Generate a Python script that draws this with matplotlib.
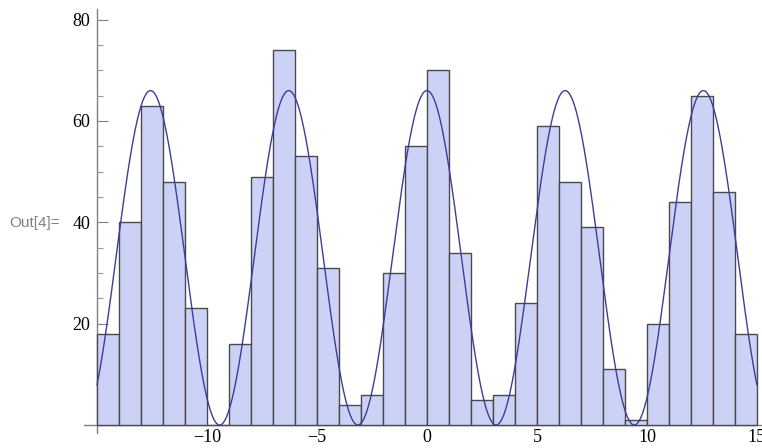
import matplotlib
matplotlib.use('Agg')

import matplotlib.pyplot as plt
import numpy as np
from matplotlib.ticker import MultipleLocator

plt.rcParams['font.family'] = ['Liberation Serif', 'DejaVu Serif']

# ── Histogram data (unit bins from -15 to 15) ─────────────────────────────────
bin_edges = list(range(-15, 16))
counts = [18, 40, 63, 48, 23, 0, 16, 49, 74, 53,
          31, 4, 6, 30, 55, 70, 34, 5, 6, 24,
          59, 48, 39, 11, 1, 20, 44, 65, 46, 18]

# overlaid curve: amplitude * cos(x/2)^2
curve_amp = 66
curve_range = (-15, 15)

y_ticks = [20, 40, 60, 80]
x_ticks = [-10, -5, 0, 5, 10, 15]
x_tick_labels = ["\u221210", "\u22125", "0", "5", "10", "15"]

BAR_FACE = "#cbd2f6"
BAR_EDGE = "#4a4a4a"
CURVE = "#3d3d99"

fig = plt.figure(figsize=(7.62, 4.48), dpi=100)
ax = fig.add_axes([83.8 / 762, (448 - 432.6) / 448, 677.5 / 762, (432.6 - 8.5) / 448])

widths = np.diff(bin_edges)
ax.bar(bin_edges[:-1], counts, width=widths, align='edge',
       color=BAR_FACE, edgecolor=BAR_EDGE, linewidth=1.0, zorder=2)

xs = np.linspace(curve_range[0], curve_range[1], 1200)
ax.plot(xs, curve_amp * np.cos(xs / 2) ** 2, color=CURVE, lw=1.0, zorder=3)

ax.set_xlim(-15.6, 15.2)
ax.set_ylim(-1.5, 82.2)

# Mathematica-style axes crossing at (-15, 0)
for s in ("top", "right"):
    ax.spines[s].set_visible(False)
ax.spines["left"].set_position(("data", -15))
ax.spines["bottom"].set_position(("data", 0))
for s in ("left", "bottom"):
    ax.spines[s].set_color("#808080")
    ax.spines[s].set_linewidth(1.0)
    ax.spines[s].set_zorder(1)

ax.set_yticks(y_ticks)
ax.yaxis.set_minor_locator(MultipleLocator(5))
ax.tick_params(axis="y", which="major", direction="in", length=8,
               width=0.8, color="#808080", pad=5, labelsize=13)
ax.tick_params(axis="y", which="minor", direction="in", length=4.5,
               width=0.8, color="#999999")

ax.set_xticks(x_ticks)
ax.set_xticklabels(x_tick_labels)
ax.tick_params(axis="x", which="both", length=0, pad=3, labelsize=13)

ax.patch.set_visible(False)

fig.text(9 / 762, 1 - 223 / 448, "Out[4]=", family="Liberation Sans",
         fontsize=11, color="#808080", ha="left", va="center")

fig.savefig("out.png", dpi=100)
